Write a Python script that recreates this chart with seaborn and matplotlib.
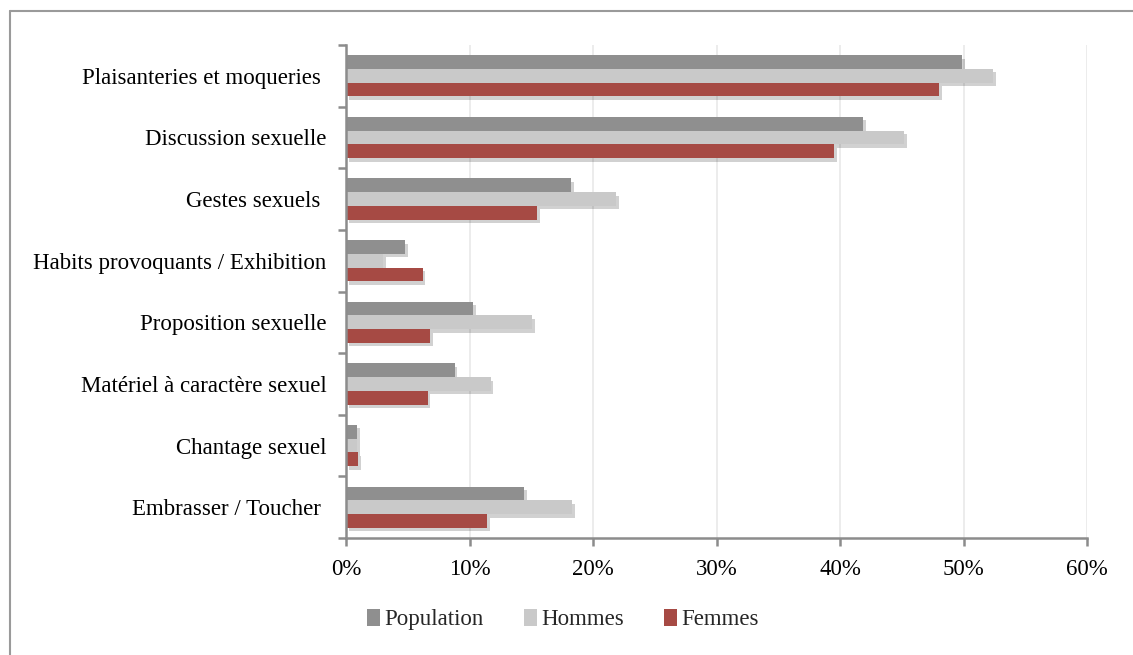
import matplotlib
matplotlib.use("Agg")
import matplotlib.pyplot as plt
import matplotlib.patheffects as pe
from matplotlib.lines import Line2D
from matplotlib.patches import Patch
from matplotlib.ticker import FuncFormatter, FixedLocator
import numpy as np
import pandas as pd
import seaborn as sns

categories = [
    "Plaisanteries et moqueries ",
    "Discussion sexuelle",
    "Gestes sexuels ",
    "Habits provoquants / Exhibition",
    "Proposition sexuelle",
    "Matériel à caractère sexuel",
    "Chantage sexuel",
    "Embrasser / Toucher ",
]
series = ["Population", "Hommes", "Femmes"]
population = [0.499, 0.419, 0.182, 0.048, 0.103, 0.088, 0.009, 0.144]
hommes = [0.524, 0.452, 0.219, 0.030, 0.151, 0.117, 0.009, 0.183]
femmes = [0.480, 0.395, 0.155, 0.062, 0.068, 0.066, 0.010, 0.114]
colors = ["#8f8f8f", "#c9c9c9", "#a64a44"]

df = pd.DataFrame({
    "categorie": categories * 3,
    "groupe": np.repeat(series, len(categories)),
    "valeur": population + hommes + femmes,
})

sns.set_theme(style="white")
plt.rcParams["font.family"] = ["Liberation Serif", "DejaVu Serif"]
FS = 16.5

fig = plt.figure(figsize=(11.33, 6.55), dpi=100)
ax = fig.add_axes([0.3054, 0.1786, 0.6540, 0.7527])

sns.barplot(data=df, y="categorie", x="valeur", hue="groupe",
            order=categories, hue_order=series, palette=colors,
            width=0.67, orient="h", ax=ax, legend=False, saturation=1)

shadow = [pe.SimplePatchShadow(offset=(2, -2.5), shadow_rgbFace="#000000", alpha=0.18),
          pe.Normal()]
for p in ax.patches:
    p.set_edgecolor("none")
    p.set_path_effects(shadow)

ax.set_xlim(0, 0.6)
ax.set_ylim(len(categories) - 0.5, -0.5)
ax.set_xticks(np.arange(0, 0.61, 0.1))
ax.xaxis.set_major_formatter(FuncFormatter(lambda v, _: f"{v*100:.0f}%"))
ax.set_xlabel("")
ax.set_ylabel("")

ax.grid(axis="x", color="#e9e9e9", linewidth=1.2)
ax.set_axisbelow(True)

for s in ["top", "right"]:
    ax.spines[s].set_visible(False)
for s in ["left", "bottom"]:
    ax.spines[s].set_color("#8c8c8c")
    ax.spines[s].set_linewidth(1.8)

ax.tick_params(axis="y", which="major", length=0, pad=14, labelsize=FS, colors="black")
ax.yaxis.set_minor_locator(FixedLocator(np.arange(-0.5, len(categories), 1.0)))
ax.tick_params(axis="y", which="minor", left=True, length=6, width=1.8, color="#8c8c8c")
ax.tick_params(axis="x", which="major", bottom=True, length=6, width=1.8,
               color="#8c8c8c", pad=9, labelsize=FS, labelcolor="black")

handles = [Patch(facecolor=c, edgecolor="none") for c in colors]
fig.legend(handles, series, loc="center", bbox_to_anchor=(0.497, 0.054), ncol=3,
           frameon=False, fontsize=FS, handlelength=0.55, handleheight=0.8,
           handletextpad=0.2, columnspacing=1.75)

# outer border (top and left edges)
fig.add_artist(Line2D([10 / 1133, 1.0], [1 - 11 / 655, 1 - 11 / 655],
                      transform=fig.transFigure, color="#9a9a9a", linewidth=1.5))
fig.add_artist(Line2D([10 / 1133, 10 / 1133], [0.0, 1 - 11 / 655],
                      transform=fig.transFigure, color="#9a9a9a", linewidth=1.5))

fig.savefig("out.png", dpi=100)
